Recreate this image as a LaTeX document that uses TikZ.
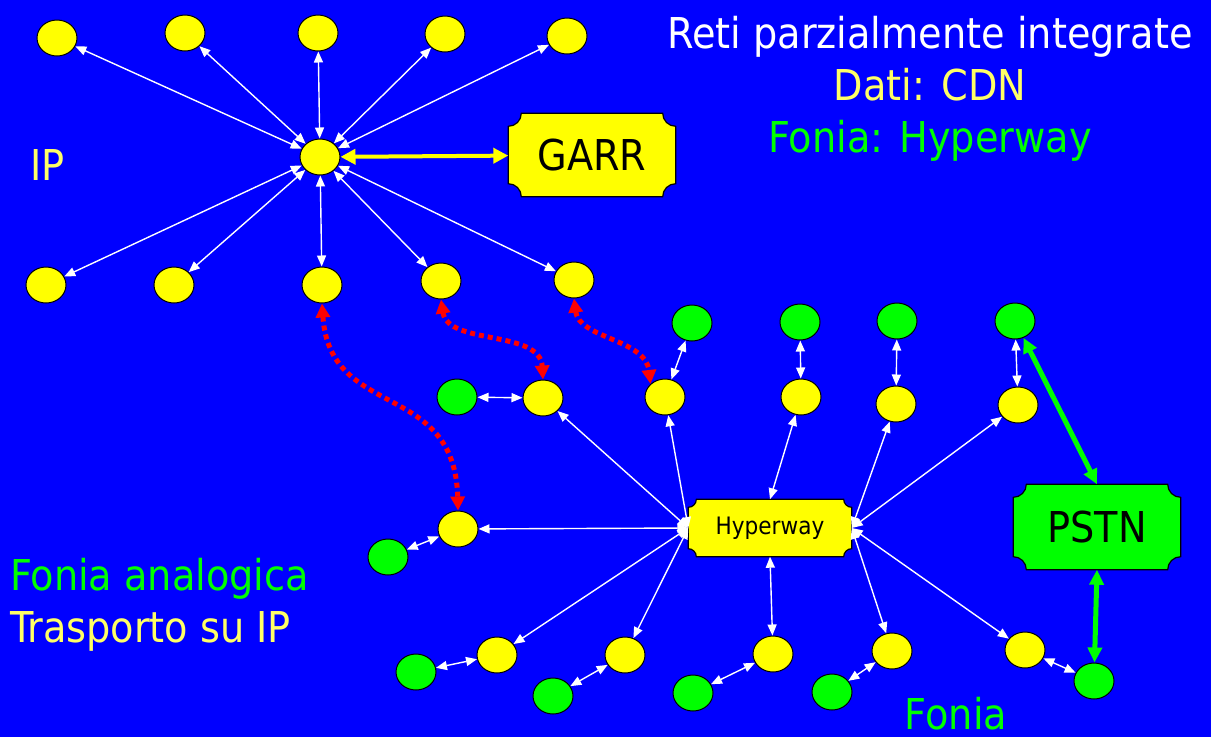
\documentclass[tikz,border=0pt]{standalone}
\usepackage{fontspec}
\setmainfont{DejaVu Sans Condensed}
\usetikzlibrary{shapes.geometric, arrows.meta, positioning, calc}

\definecolor{bgblue}{HTML}{0000FF}
\definecolor{nodeyellow}{HTML}{FFFF00}
\definecolor{nodegreen}{HTML}{00FF00}
\definecolor{textyellow}{HTML}{FFFF66}

\pgfdeclarelayer{back}
\pgfsetlayers{back,main}

% box with hollow corners behind a named node
\newcommand{\plaque}[3]{%
  \begin{pgfonlayer}{back}
  \filldraw[fill=#3, draw=black, line width=1.2pt]
    ($(#1.north west)+(#2,0)$) -- ($(#1.north east)+(-#2,0)$)
    arc[start angle=180, end angle=90, radius=#2] -- ($(#1.south east)+(0,-#2)$)
    arc[start angle=270, end angle=180, radius=#2] -- ($(#1.south west)+(#2,0)$)
    arc[start angle=0, end angle=-90, radius=#2] -- ($(#1.north west)+(0,#2)$)
    arc[start angle=90, end angle=0, radius=#2] -- cycle;
  \end{pgfonlayer}}

\tikzset{
  yn/.style={ellipse, draw=black, line width=1pt, fill=nodeyellow,
    minimum width=40pt, minimum height=36pt, inner sep=0pt},
  gn/.style={yn, fill=nodegreen},
  wire/.style={draw=white, line width=1.4pt, <->, >={Triangle[width=9pt,length=11pt]}},
  hop/.style={draw=red, line width=5pt, dash pattern=on 5pt off 4pt, <->,
    >={Triangle[width=14pt,length=14pt]}},
  trunk/.style={draw=nodegreen, line width=5pt, <->, >={Triangle[width=14pt,length=15pt]}},
  garrlink/.style={draw=nodeyellow, line width=4pt, <->, >={Triangle[width=15pt,length=15pt]}},
  bigtext/.style={font=\fontsize{42.5}{50}\selectfont, inner sep=0pt},
  boxtext/.style={inner sep=0pt, text=black}
}

\begin{document}
\begin{tikzpicture}[x=1pt, y=-1pt]
\begin{pgfonlayer}{back}
\fill[bgblue] (0,0) rectangle (1211,737);
\end{pgfonlayer}
\useasboundingbox (0,0) rectangle (1211,737);

% IP network
\node[yn] (hub) at (320,157) {};
\node[yn] (t1) at (57,38) {};
\node[yn] (t2) at (185,33) {};
\node[yn] (t3) at (318,33) {};
\node[yn] (t4) at (445,34) {};
\node[yn] (t5) at (567,36) {};
\node[yn] (b1) at (46,285) {};
\node[yn] (b2) at (174,285) {};
\node[yn] (b3) at (322,285) {};
\node[yn] (b4) at (441,281) {};
\node[yn] (b5) at (574,280) {};
\node[boxtext, font=\fontsize{42.5}{50}\selectfont, minimum width=167pt, minimum height=83pt] (garr) at (592,155) {GARR};
\plaque{garr}{13}{nodeyellow}

\foreach \n in {t1,t2,t3,t4,t5,b1,b2,b3,b4,b5}
  \draw[wire] (hub) -- (\n);
\draw[garrlink] (hub) -- (garr);

% voice network
\node[boxtext, font=\fontsize{24}{28}\selectfont, minimum width=163pt, minimum height=57pt] (hyper) at (770,528) {Hyperway};
\plaque{hyper}{8}{nodeyellow}
\node[boxtext, font=\fontsize{42.5}{50}\selectfont, minimum width=167pt, minimum height=85pt] (pstn) at (1097,527) {PSTN};
\plaque{pstn}{13}{nodegreen}

\node[yn] (ya) at (543,398) {};
\node[yn] (yb) at (665,397) {};
\node[yn] (yc) at (801,397) {};
\node[yn] (yd) at (896,404) {};
\node[yn] (ye) at (1018,405) {};
\node[yn] (yf) at (458,529) {};
\node[yn] (yg) at (497,655) {};
\node[yn] (yh) at (625,655) {};
\node[yn] (yi) at (773,654) {};
\node[yn] (yj) at (892,651) {};
\node[yn] (yk) at (1025,650) {};

\node[gn] (ga) at (457,397) {};
\node[gn] (gb) at (692,323) {};
\node[gn] (gc) at (800,322) {};
\node[gn] (gd) at (897,321) {};
\node[gn] (ge) at (1015,321) {};
\node[gn] (gf) at (388,557) {};
\node[gn] (gg) at (416,672) {};
\node[gn] (gh) at (553,696) {};
\node[gn] (gi) at (693,693) {};
\node[gn] (gj) at (832,692) {};
\node[gn] (gk) at (1094,681) {};

\foreach \n in {ya,yb,yf,yg,yh}
  \draw[wire] (hyper.west) -- (\n);
\foreach \n in {yd,ye,yj,yk}
  \draw[wire] (hyper.east) -- (\n);
\draw[wire] (hyper.north) -- (yc);
\draw[wire] (hyper.south) -- (yi);

\foreach \y/\g in {ya/ga,yb/gb,yc/gc,yd/gd,ye/ge,yf/gf,yg/gg,yh/gh,yi/gi,yj/gj,yk/gk}
  \draw[wire] (\y) -- (\g);

\draw[trunk] (pstn.north) -- (ge);
\draw[trunk] (pstn.south) -- (gk);

% transport of voice over IP
\draw[hop] (b3.south) .. controls +(8,117) and +(-3,-131) .. (yf.north);
\draw[hop] (b4.south) .. controls +(7,46) and +(-3,-50) .. (ya.north);
\draw[hop] (b5.south) .. controls +(5,40) and +(-5,-45) .. (yb.north west);

% labels
\node[bigtext, text=white, anchor=base] (title) at (930,48) {Reti parzialmente integrate};
\node[bigtext, text=textyellow, anchor=base] (dati) at (930,100) {Dati: CDN};
\node[bigtext, text=nodegreen, anchor=base] (fonia) at (930,152) {Fonia: Hyperway};
\node[bigtext, text=textyellow, anchor=base west] (ip) at (30,180) {IP};
\node[bigtext, text=nodegreen, anchor=base west] (analog) at (10,590) {Fonia analogica};
\node[bigtext, text=textyellow, anchor=base west] (transport) at (10,642) {Trasporto su IP};
\node[bigtext, text=nodegreen, anchor=base] (fonialbl) at (956,729) {Fonia};
\end{tikzpicture}
\end{document}
